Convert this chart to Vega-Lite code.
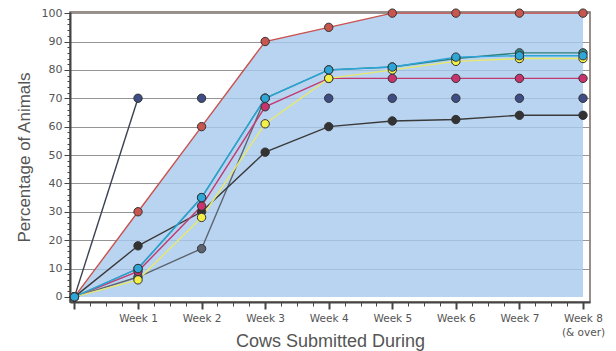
{
  "$schema": "https://vega.github.io/schema/vega-lite/v6.json",
  "autosize": "none",
  "width": 520,
  "height": 290,
  "padding": {"left": 70, "top": 12, "right": 26, "bottom": 49},
  "background": "white",
  "config": {
    "view": {"stroke": "#7a6a66", "strokeWidth": 1.5},
    "axis": {"labelFont": "DejaVu Sans", "titleFont": "Liberation Sans", "labelColor": "#555", "titleColor": "#555", "titleFontWeight": "normal", "domainColor": "#444", "domainWidth": 2, "tickColor": "#444"}
  },
  "data": {"values": [
    {"series": "gray", "week": 0, "value": 0}, {"series": "gray", "week": 1, "value": 7}, {"series": "gray", "week": 2, "value": 17}, {"series": "gray", "week": 3, "value": 70},
    {"series": "black", "week": 0, "value": 0}, {"series": "black", "week": 1, "value": 18}, {"series": "black", "week": 2, "value": 30}, {"series": "black", "week": 3, "value": 51}, {"series": "black", "week": 4, "value": 60}, {"series": "black", "week": 5, "value": 62}, {"series": "black", "week": 6, "value": 62.5}, {"series": "black", "week": 7, "value": 64}, {"series": "black", "week": 8, "value": 64},
    {"series": "navy", "week": 0, "value": 0}, {"series": "navy", "week": 1, "value": 70}, {"series": "navy", "week": 2, "value": 70}, {"series": "navy", "week": 4, "value": 70}, {"series": "navy", "week": 5, "value": 70}, {"series": "navy", "week": 6, "value": 70}, {"series": "navy", "week": 7, "value": 70}, {"series": "navy", "week": 8, "value": 70},
    {"series": "red", "week": 0, "value": 0}, {"series": "red", "week": 1, "value": 30}, {"series": "red", "week": 2, "value": 60}, {"series": "red", "week": 3, "value": 90}, {"series": "red", "week": 4, "value": 95}, {"series": "red", "week": 5, "value": 100}, {"series": "red", "week": 6, "value": 100}, {"series": "red", "week": 7, "value": 100}, {"series": "red", "week": 8, "value": 100},
    {"series": "magenta", "week": 0, "value": 0}, {"series": "magenta", "week": 1, "value": 9}, {"series": "magenta", "week": 2, "value": 32}, {"series": "magenta", "week": 3, "value": 67}, {"series": "magenta", "week": 4, "value": 77}, {"series": "magenta", "week": 5, "value": 77}, {"series": "magenta", "week": 6, "value": 77}, {"series": "magenta", "week": 7, "value": 77}, {"series": "magenta", "week": 8, "value": 77},
    {"series": "teal", "week": 0, "value": 0}, {"series": "teal", "week": 1, "value": 10}, {"series": "teal", "week": 2, "value": 35}, {"series": "teal", "week": 3, "value": 70}, {"series": "teal", "week": 4, "value": 80}, {"series": "teal", "week": 5, "value": 81}, {"series": "teal", "week": 6, "value": 84}, {"series": "teal", "week": 7, "value": 86}, {"series": "teal", "week": 8, "value": 86},
    {"series": "yellow", "week": 0, "value": 0}, {"series": "yellow", "week": 1, "value": 6}, {"series": "yellow", "week": 2, "value": 28}, {"series": "yellow", "week": 3, "value": 61}, {"series": "yellow", "week": 4, "value": 77}, {"series": "yellow", "week": 5, "value": 80}, {"series": "yellow", "week": 6, "value": 83}, {"series": "yellow", "week": 7, "value": 84}, {"series": "yellow", "week": 8, "value": 84},
    {"series": "cyan", "week": 0, "value": 0}, {"series": "cyan", "week": 1, "value": 10}, {"series": "cyan", "week": 2, "value": 35}, {"series": "cyan", "week": 3, "value": 70}, {"series": "cyan", "week": 4, "value": 80}, {"series": "cyan", "week": 5, "value": 81}, {"series": "cyan", "week": 6, "value": 84.5}, {"series": "cyan", "week": 7, "value": 85}, {"series": "cyan", "week": 8, "value": 85}
  ]},
  "encoding": {
    "x": {
      "field": "week", "type": "quantitative",
      "scale": {"domain": [-0.07, 8.11], "nice": false, "zero": false},
      "axis": {
        "title": "Cows Submitted During", "titleFontSize": 18, "titleBaseline": "alphabetic", "titleY": 44,
        "values": [0, 0.25, 0.5, 0.75, 1, 1.25, 1.5, 1.75, 2, 2.25, 2.5, 2.75, 3, 3.25, 3.5, 3.75, 4, 4.25, 4.5, 4.75, 5, 5.25, 5.5, 5.75, 6, 6.25, 6.5, 6.75, 7, 7.25, 7.5, 7.75, 8],
        "labelExpr": "datum.value % 1 !== 0 || datum.value === 0 ? '' : (datum.value === 8 ? ['Week 8', '(& over)'] : 'Week ' + datum.value)",
        "labelFontSize": 10.5, "labelPadding": 4, "labelBaseline": "top", "labelLineHeight": 14,
        "grid": false,
        "tickSize": {"condition": {"test": "datum.value % 1 === 0", "value": 7}, "value": 4},
        "tickWidth": {"condition": {"test": "datum.value % 1 === 0", "value": 2}, "value": 1}
      }
    },
    "y": {
      "field": "value", "type": "quantitative",
      "scale": {"domain": [-1.8, 100.4], "nice": false, "zero": false},
      "axis": {
        "title": "Percentage of Animals", "titleFontSize": 17, "titlePadding": 8,
        "values": [0, 2, 4, 6, 8, 10, 12, 14, 16, 18, 20, 22, 24, 26, 28, 30, 32, 34, 36, 38, 40, 42, 44, 46, 48, 50, 52, 54, 56, 58, 60, 62, 64, 66, 68, 70, 72, 74, 76, 78, 80, 82, 84, 86, 88, 90, 92, 94, 96, 98, 100],
        "labelExpr": "datum.value % 10 === 0 ? datum.label : ''",
        "labelFontSize": 11, "labelPadding": 2,
        "grid": true, "gridColor": "#8a8a8a",
        "gridOpacity": {"condition": {"test": "datum.value % 10 === 0 && datum.value > 0", "value": 0.9}, "value": 0},
        "gridWidth": 1.2,
        "tickSize": {"condition": {"test": "datum.value % 10 === 0", "value": 6}, "value": 3},
        "tickWidth": 1
      }
    }
  },
  "layer": [
    {
      "transform": [{"filter": "datum.series === 'red'"}],
      "mark": {"type": "area", "color": "#a8c9ee", "opacity": 0.8},
      "encoding": {"y2": {"datum": 0}}
    },
    {
      "transform": [{"filter": "!(datum.series === 'navy' && datum.week > 1)"}],
      "mark": {"type": "line", "strokeWidth": 1.4},
      "encoding": {
        "color": {"field": "series", "type": "nominal", "legend": null,
          "scale": {"domain": ["gray", "black", "navy", "red", "magenta", "teal", "yellow", "cyan"],
                    "range": ["#5c6470", "#3a3a3a", "#3b4152", "#c9524e", "#c23a72", "#2e7f78", "#e8e86a", "#2aa6da"]}},
        "detail": {"field": "series"}
      }
    },
    {
      "mark": {"type": "point", "filled": true, "size": 70, "opacity": 1, "stroke": "#333", "strokeWidth": 1},
      "encoding": {
        "fill": {"field": "series", "type": "nominal", "legend": null,
          "scale": {"domain": ["gray", "black", "navy", "red", "magenta", "teal", "yellow", "cyan"],
                    "range": ["#5b6270", "#333333", "#3e4e85", "#c9564e", "#c8336e", "#2e8a86", "#f4f04a", "#2ea6d8"]}}
      }
    }
  ]
}
